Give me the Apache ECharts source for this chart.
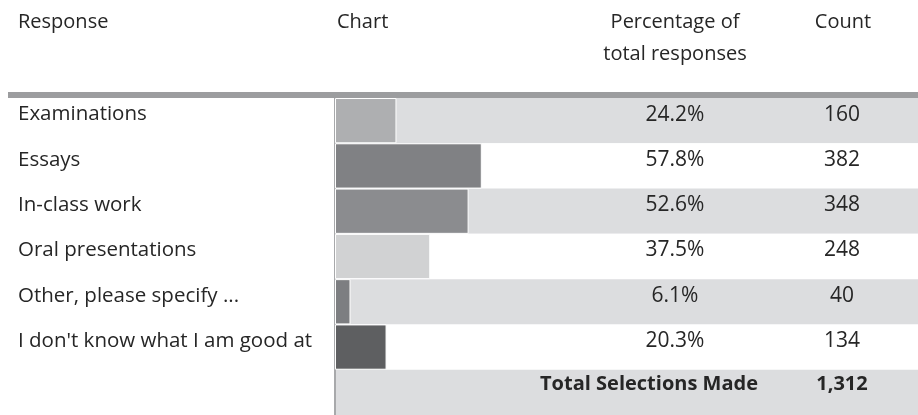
<!DOCTYPE html>
<html>
<head>
<meta charset="utf-8">
<script src="https://cdn.jsdelivr.net/npm/echarts@6/dist/echarts.min.js"></script>
<style>
  html, body { margin: 0; padding: 0; background: #fff; }
  #chart { width: 918px; height: 415px; }
</style>
</head>
<body>
<div id="chart"></div>
<script>
const responses = ['Examinations', 'Essays', 'In-class work', 'Oral presentations', 'Other, please specify ...', "I don't know what I am good at"]
const percents = [24.2, 57.8, 52.6, 37.5, 6.1, 20.3]
const counts = [160, 382, 348, 248, 40, 134]
const totalLabel = 'Total Selections Made'
const totalCount = '1,312'
const headers = ['Response', 'Chart', 'Percentage of\ntotal responses', 'Count']

// bar shades, one per row
const BAR_COLORS = ['#aeafb1', '#808184', '#8b8c8f', '#d1d2d3', '#7d7e81', '#5e5f61']
const FONT = '"Open Sans", sans-serif'
const TEXT = '#262626'

const GRID_LEFT = 335
const PX_PER_PCT = 2.54
const xMax = (918 - GRID_LEFT) / PX_PER_PCT

const rows = responses.concat([''])
const pctLabels = percents.map(p => p.toFixed(1) + '%').concat([totalLabel])
const countLabels = counts.map(c => String(c)).concat([totalCount])

const chart = echarts.init(document.getElementById('chart'))

const lastIdx = rows.length - 1

const columnAxis = (data, margin, totalPad) => ({
  type: 'category',
  data: data,
  inverse: true,
  position: 'right',
  axisLine: { show: false },
  axisTick: { show: false },
  axisLabel: {
    align: 'center',
    margin: margin,
    formatter: (v, i) => (i === lastIdx ? '{b|' + v + '}' : '{n|' + v + '}'),
    rich: {
      n: { fontSize: 21, fontFamily: FONT, color: TEXT, padding: [0, 0, 12, 0] },
      b: { fontWeight: 'bold', fontSize: 20, fontFamily: FONT, color: TEXT, padding: [0, totalPad, 16, 0] }
    }
  }
})

chart.setOption({
  animation: false,
  grid: { left: GRID_LEFT, right: 0, top: 98, bottom: -4 },
  xAxis: { type: 'value', min: 0, max: xMax, show: false },
  yAxis: [
    {
      type: 'category',
      data: rows,
      inverse: true,
      axisLine: { show: true, lineStyle: { color: '#a8a9ab', width: 2 } },
      axisTick: { show: false },
      splitLine: { show: false },
      splitArea: { show: true, areaStyle: { color: ['#dcdddf', '#ffffff'] } },
      axisLabel: {
        align: 'left',
        margin: GRID_LEFT - 18,
        formatter: v => '{a|' + v + '}',
        rich: {
          a: { fontSize: 20.5, fontFamily: FONT, color: TEXT, padding: [0, 0, 12, 0] }
        }
      }
    },
    columnAxis(pctLabels, -(918 - 675), 52),
    columnAxis(countLabels, -(918 - 842), 0)
  ],
  series: [
    {
      type: 'bar',
      yAxisIndex: 0,
      barWidth: '100%',
      data: percents.map((p, i) => ({ value: p, itemStyle: { color: BAR_COLORS[i] } })),
      itemStyle: { borderColor: '#ffffff', borderWidth: 1 },
      z: 3
    }
  ],
  graphic: [
    { type: 'rect', shape: { x: 8, y: 92, width: 910, height: 6 }, style: { fill: '#9c9d9f' }, z: 10 },
    { type: 'text', x: 18, y: 12, style: { text: headers[0], font: '20px ' + FONT, fill: TEXT } },
    { type: 'text', x: 337, y: 12, style: { text: headers[1], font: '20px ' + FONT, fill: TEXT } },
    { type: 'text', x: 675, y: 6, style: { text: headers[2], font: '20px ' + FONT, fill: TEXT, align: 'center', lineHeight: 32 } },
    { type: 'text', x: 843, y: 12, style: { text: headers[3], font: '20px ' + FONT, fill: TEXT, align: 'center' } }
  ]
})
</script>
</body>
</html>
